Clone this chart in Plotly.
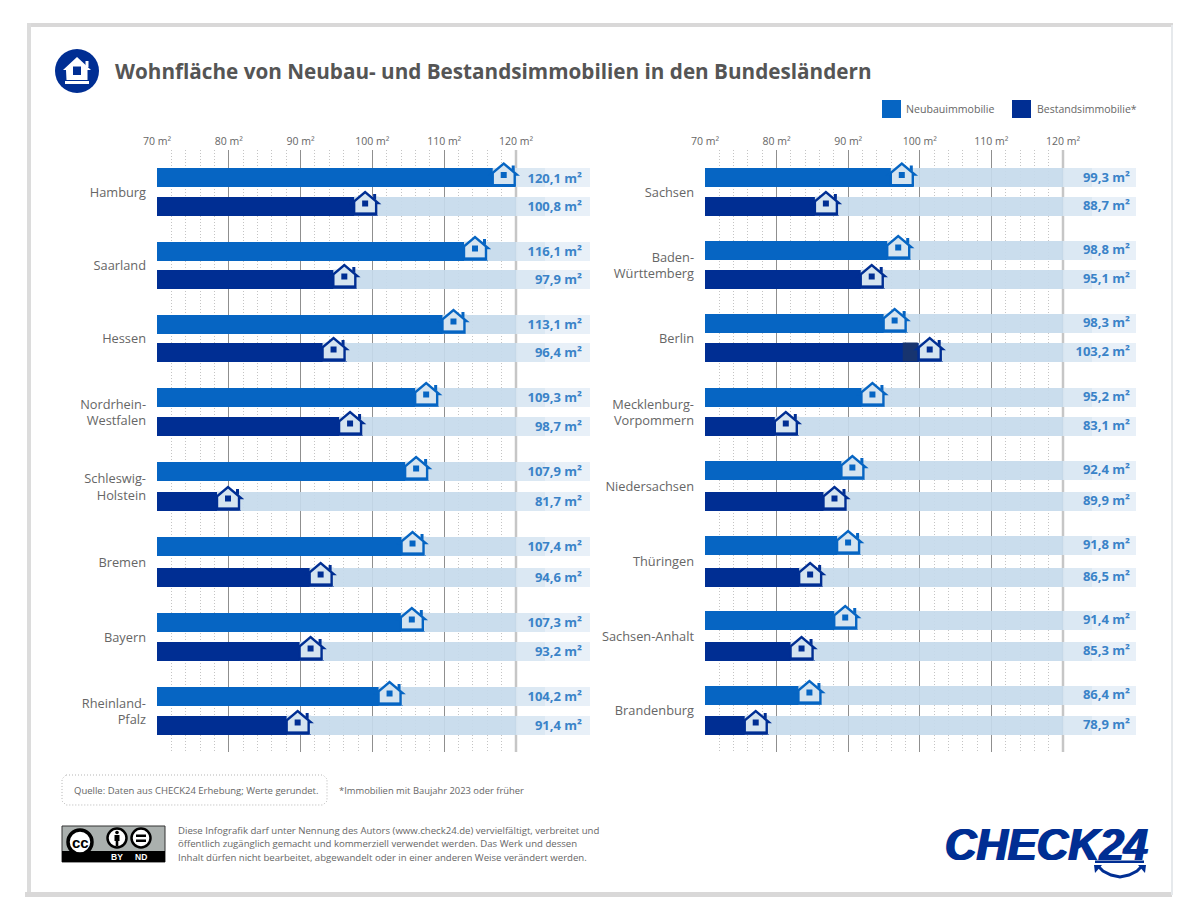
import plotly.graph_objects as go

W, H = 1200, 917
FONT = "Open Sans"
NEU_COL = "#0665c3"
BEST_COL = "#002e93"
VAL_COL = "#3a83c8"
TXT = "#666666"

left_labels = ["Hamburg", "Saarland", "Hessen", "Nordrhein-<br>Westfalen", "Schleswig-<br>Holstein",
               "Bremen", "Bayern", "Rheinland-<br>Pfalz"]
left_neubau = [120.1, 116.1, 113.1, 109.3, 107.9, 107.4, 107.3, 104.2]
left_bestand = [100.8, 97.9, 96.4, 98.7, 81.7, 94.6, 93.2, 91.4]

right_labels = ["Sachsen", "Baden-<br>Württemberg", "Berlin", "Mecklenburg-<br>Vorpommern", "Niedersachsen",
                "Thüringen", "Sachsen-Anhalt", "Brandenburg"]
right_neubau = [99.3, 98.8, 98.3, 95.2, 92.4, 91.8, 91.4, 86.4]
right_bestand = [88.7, 95.1, 103.2, 83.1, 89.9, 86.5, 85.3, 78.9]

tick_vals = [70, 80, 90, 100, 110, 120]
tick_text = ["70 m²", "80 m²", "90 m²", "100 m²", "110 m²", "120 m²"]
minor_vals = [72, 74, 76, 78, 82, 84, 86, 88, 92, 94, 96, 98, 102, 104, 106, 108, 112, 114, 116, 118]

# layout: pixel rows (the y axes run in page pixels)
left_rows_neu = [177.5, 251, 324, 397, 471, 546, 622, 696]
left_rows_best = [206, 279, 352, 426, 501, 577, 651, 725]
right_rows_neu = [177.5, 250, 323, 397, 470, 545, 620, 695]
right_rows_best = [206, 279, 352, 426, 501, 577, 651, 725]

BAR_H = 19
TOP, BOTTOM = 150, 752
L_X0, L_X120, L_END, L_LBL = 157, 516, 590, 582
R_X0, R_X120, R_END, R_LBL = 705, 1063, 1136, 1130


def px(x):
    return x / W


def py(y):
    return 1 - y / H


def fmt(v):
    return f"{v:.1f}".replace(".", ",") + " m²"


fig = go.Figure()
shapes = []
annotations = []


def add_band(xa, ya, ys, x_start, x_end):
    stops = [(70, 120, "rgba(198,218,235,0.92)"),
             (120, 124, "rgba(216,230,242,0.92)"),
             (124, x_end, "rgba(230,239,247,0.92)")]
    for a, b, c in stops:
        fig.add_trace(go.Bar(y=ys, x=[b - a] * len(ys), base=[a] * len(ys), orientation="h", width=BAR_H,
                             marker=dict(color=c, line_width=0), xaxis=xa, yaxis=ya, showlegend=False,
                             hoverinfo="skip"))


def house(xref, yref, val, y, col):
    base = dict(xref=xref, yref=yref, xsizemode="pixel", ysizemode="pixel", xanchor=val, yanchor=y)
    cx = -13

    def path(points):
        return "M" + " L".join(f"{cx + a},{-b}" for a, b in points) + " Z"

    # band coloured patch that ends the bar at the left wall
    shapes.append(dict(type="path", path=path([(-11, -9.5), (13.5, -9.5), (13.5, 9.5), (-11, 9.5)]),
                       fillcolor="#cfe0ee", line_width=0, **base))
    # outline
    shapes.append(dict(type="path",
                       path=path([(-11, -3), (-13, -3), (0, -14), (13, -3), (11, -3), (11, 8), (-11, 8)]),
                       fillcolor="#d5e4f0", line=dict(color=col, width=2.4), **base))
    # chimney, floor, window
    for pts in ([(8, -12), (11, -12), (11, -6), (8, -8)],
                [(-11.5, 6.5), (11.5, 6.5), (11.5, 9.5), (-11.5, 9.5)],
                [(-3, -5.5), (3, -5.5), (3, 0.5), (-3, 0.5)]):
        shapes.append(dict(type="path", path=path(pts), fillcolor=col, line_width=0, **base))


def panel(xa, ya, labels, neu, best, rows_neu, rows_best, x0, x120, xend, xlbl, lbl_shift):
    scale = (x120 - x0) / 50
    band_end = 70 + (xend - x0) / scale
    lbl_x = 70 + (xlbl - x0) / scale
    add_band(xa, ya, rows_neu + rows_best, x0, band_end)
    fig.add_trace(go.Bar(y=rows_neu, x=neu, orientation="h", width=BAR_H, name="Neubauimmobilie",
                         marker=dict(color=NEU_COL, line_width=0), xaxis=xa, yaxis=ya, showlegend=False))
    fig.add_trace(go.Bar(y=rows_best, x=best, orientation="h", width=BAR_H, name="Bestandsimmobilie*",
                         marker=dict(color=BEST_COL, line_width=0), xaxis=xa, yaxis=ya, showlegend=False))
    fig.add_trace(go.Scatter(y=[r + lbl_shift for r in rows_neu + rows_best], x=[lbl_x] * (len(neu) + len(best)),
                             text=[fmt(v) for v in neu + best], mode="text", textposition="middle left",
                             textfont=dict(family=FONT, size=13, color=VAL_COL, weight="bold"),
                             xaxis=xa, yaxis=ya, showlegend=False, hoverinfo="skip", cliponaxis=False))
    xkey = "xaxis" + xa[1:]
    ykey = "yaxis" + ya[1:]
    mids = [(a + b) / 2 + 1 for a, b in zip(rows_neu, rows_best)]
    fig.update_layout({
        xkey: dict(domain=[px(x0), px(xend)], range=[70, band_end], anchor=ya, side="top", automargin=False,
                   tickmode="array", tickvals=tick_vals, ticktext=tick_text, ticks="", ticklabelstandoff=2,
                   tickfont=dict(family=FONT, size=10.5, color=TXT),
                   showgrid=True, gridcolor="#8f8f8f", gridwidth=1, zeroline=False, showline=False,
                   minor=dict(tickmode="array", tickvals=minor_vals, showgrid=True, gridcolor="#c4c4c4",
                              griddash="1px,2px", gridwidth=1, ticks="")),
        ykey: dict(domain=[py(BOTTOM), py(TOP)], range=[BOTTOM, TOP], anchor=xa, tickmode="array",
                   automargin=False,
                   tickvals=mids, ticktext=labels, ticks="", ticklabelstandoff=10,
                   tickfont=dict(family=FONT, size=12.8, color=TXT),
                   showgrid=False, zeroline=False, showline=False),
    })
    # light 120 line
    shapes.append(dict(type="line", xref=xa, yref=ya, x0=120, x1=120, y0=BOTTOM, y1=TOP,
                       line=dict(color="#c6c6c6", width=2.5), layer="between"))


panel("x", "y", left_labels, left_neubau, left_bestand, left_rows_neu, left_rows_best,
      L_X0, L_X120, L_END, L_LBL, 2)
panel("x2", "y2", right_labels, right_neubau, right_bestand, right_rows_neu, right_rows_best,
      R_X0, R_X120, R_END, R_LBL, 1)

# dark blotch on the Berlin bar
berlin = right_labels.index("Berlin")
shapes.append(dict(type="rect", xref="x2", yref="y2", xsizemode="pixel", ysizemode="pixel",
                   xanchor=right_bestand[berlin], yanchor=right_rows_best[berlin],
                   x0=-40, x1=-25, y0=-BAR_H / 2, y1=BAR_H / 2,
                   fillcolor="#17346f", line_width=0))

for vals, rows, xr, yr, col in ((left_neubau, left_rows_neu, "x", "y", NEU_COL),
                                (left_bestand, left_rows_best, "x", "y", BEST_COL),
                                (right_neubau, right_rows_neu, "x2", "y2", NEU_COL),
                                (right_bestand, right_rows_best, "x2", "y2", BEST_COL)):
    for v, r in zip(vals, rows):
        house(xr, yr, v, r, col)


def ptext(x, y, text, size=10, color=TXT, anchor="left", weight=None, family=FONT, **kw):
    font = dict(family=family, size=size, color=color)
    if weight:
        font["weight"] = weight
    font.update(kw.pop("font_extra", {}))
    annotations.append(dict(xref="paper", yref="paper", x=px(x), y=py(y), text=text, showarrow=False,
                            xanchor=anchor, yanchor="middle", align="left", font=font,
                            borderpad=0, **kw))


def prect(x0, y0, x1, y1, fill, line=None, width=0, **kw):
    shapes.append(dict(type="rect", xref="paper", yref="paper", x0=px(x0), x1=px(x1), y0=py(y0), y1=py(y1),
                       fillcolor=fill, line=dict(color=line or fill, width=width), **kw))


def pcircle(cx, cy, r, fill, line=None, width=0):
    shapes.append(dict(type="circle", xref="paper", yref="paper", x0=px(cx - r), x1=px(cx + r),
                       y0=py(cy + r), y1=py(cy - r), fillcolor=fill,
                       line=dict(color=line or fill, width=width)))


def ppath(points, fill=None, line=None, width=0, close=True):
    d = "M" + " L".join(f"{px(a):.5f},{py(b):.5f}" for a, b in points) + (" Z" if close else "")
    shapes.append(dict(type="path", xref="paper", yref="paper", path=d,
                       fillcolor=fill or "rgba(0,0,0,0)", line=dict(color=line or fill, width=width)))


# frame
FRAME = "#d9d8d8"
prect(27, 23, 1173, 27, FRAME)
prect(27, 23, 31, 895, "#dcdcdc")
prect(25, 892, 1172, 897, FRAME)
prect(1171, 25, 1173, 895, "#e6e9ec")

# header icon
pcircle(77, 71, 22, BEST_COL)
ppath([(66, 70), (63, 70), (77, 57), (91, 70), (87.5, 70), (87.5, 80), (66.5, 80)], fill="#ffffff")
prect(73, 66.5, 81, 75, BEST_COL)
prect(85.5, 61, 88.5, 67, "#ffffff")
prect(65, 81, 89, 84, "#ffffff")
ptext(114, 71, "Wohnfläche von Neubau- und Bestandsimmobilien in den Bundesländern", size=20.7, color="#555555",
      weight="bold")

# legend
prect(882, 100, 901, 118, NEU_COL)
ptext(905, 109, "Neubauimmobilie", size=10.6)
prect(1012, 100, 1031, 118, BEST_COL)
ptext(1036, 109, "Bestandsimmobilie*", size=10.5)

# footer
shapes.append(dict(type="path", xref="paper", yref="paper",
                   path="M" + " ".join(f"{'L' if i else ''}{px(a):.5f},{py(b):.5f}" for i, (a, b) in enumerate(
                       [(66, 775), (323, 775), (327, 779), (327, 801), (323, 805), (66, 805), (62, 801), (62, 779)])) + " Z",
                   line=dict(color="#b5b5b5", width=1, dash="1px,2px"), fillcolor="rgba(0,0,0,0)"))
ptext(73, 790, "Quelle: Daten aus CHECK24 Erhebung; Werte gerundet.", size=9.5)
ptext(338, 790, "*Immobilien mit Baujahr 2023 oder früher", size=9.4)
ptext(177, 830, "Diese Infografik darf unter Nennung des Autors (www.check24.de) vervielfältigt, verbreitet und", size=9.6)
ptext(177, 843.5, "öffentlich zugänglich gemacht und kommerziell verwendet werden. Das Werk und dessen", size=9.6)
ptext(177, 857, "Inhalt dürfen nicht bearbeitet, abgewandelt oder in einer anderen Weise verändert werden.", size=9.6)

# CC badge
prect(62, 826, 165, 862, "#aab0ae", line="#333333", width=1)
prect(62, 851, 165, 862, "#000000")
pcircle(80, 842, 12, "#ffffff", line="#000000", width=3.5)
ptext(80, 842, "cc", size=15, color="#000000", anchor="center", weight="bold", family="Liberation Sans")
pcircle(117, 838, 9.5, "#ffffff", line="#000000", width=2.5)
pcircle(117, 832.5, 1.8, "#000000")
prect(114.5, 835, 119.5, 841, "#000000")
prect(115.7, 841, 118.3, 846, "#000000")
pcircle(141, 838, 9.5, "#ffffff", line="#000000", width=2.5)
prect(136, 834.5, 146, 837, "#000000")
prect(136, 839.5, 146, 842, "#000000")
ptext(117, 857, "BY", size=8.5, color="#ffffff", anchor="center", weight="bold", family="Liberation Sans")
ptext(141, 857, "ND", size=8.5, color="#ffffff", anchor="center", weight="bold", family="Liberation Sans")

# logo
ptext(944, 845, "CHECK24", size=43.5, color=BEST_COL, weight="bold", family="Liberation Sans",
      font_extra=dict(style="italic", shadow="1px 0 0 #002e93, -1px 0 0 #002e93"))
prect(1095, 860.5, 1144, 863, BEST_COL)
ppath([(1098, 866), (1103, 871), (1111, 875), (1120, 877), (1129, 875), (1137, 871), (1142, 866)],
      line=BEST_COL, width=3, close=False)
ppath([(1094, 865), (1102, 865), (1095, 873)], fill=BEST_COL)
ppath([(1146, 865), (1138, 865), (1145, 873)], fill=BEST_COL)

fig.update_layout(width=W, height=H, margin=dict(l=0, r=0, t=0, b=0), barmode="overlay", bargap=0,
                  paper_bgcolor="#ffffff", plot_bgcolor="rgba(0,0,0,0)", showlegend=False,
                  shapes=shapes, annotations=annotations, font=dict(family=FONT, color=TXT))

fig.write_html("out.html", config=dict(displayModeBar=False),
               post_script="document.body.style.margin='0';document.body.style.overflow='hidden';")
